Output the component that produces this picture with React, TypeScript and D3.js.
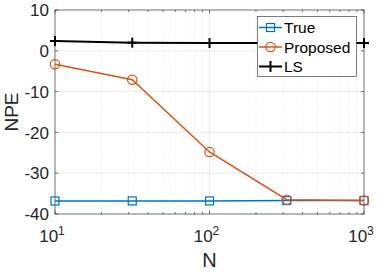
import React from "react";
import * as d3 from "d3";

const xs = [10, 31.62, 100, 316.2, 1000];
const trueVals = [-36.8, -36.8, -36.8, -36.7, -36.7];
const proposedVals = [-3.3, -7.1, -24.8, -36.5, -36.7];
const lsVals = [2.4, 2.0, 1.9, 1.9, 1.9];
const yTicks = [-40, -30, -20, -10, 0, 10];
const xTicks = [10, 100, 1000];
const xTickExps = ["1", "2", "3"];
const seriesNames = ["True", "Proposed", "LS"];

const W = 382, H = 273;
const L = 55, R = 364, T = 10, B = 214;
const font = "'Liberation Sans', Arial, sans-serif";

export default function App() {
  const x = d3.scaleLog().domain([10, 1000]).range([L, R]);
  const y = d3.scaleLinear().domain([-40, 10]).range([B, T]);
  const line = d3.line<number>().x((_, i) => x(xs[i])).y((d) => y(d));
  const minor: number[] = [];
  [10, 100].forEach((d) => { for (let k = 2; k <= 9; k++) minor.push(d * k); });
  const blue = "#0072BD", orange = "#D95319";
  return (
    <svg width={W} height={H} style={{ position: "absolute", left: 0, top: 0, background: "#fff" }} fontFamily={font}>
      <rect x={0} y={0} width={W} height={H} fill="#fff" />
      {minor.map((m) => (
        <line key={"mg" + m} x1={x(m)} x2={x(m)} y1={T} y2={B} stroke="#dcdcdc" strokeWidth={0.6} strokeDasharray="1,2" />
      ))}
      {xTicks.map((t) => (
        <line key={"xg" + t} x1={x(t)} x2={x(t)} y1={T} y2={B} stroke="#e6e6e6" strokeWidth={0.8} />
      ))}
      {yTicks.map((t) => (
        <line key={"yg" + t} x1={L} x2={R} y1={y(t)} y2={y(t)} stroke="#e6e6e6" strokeWidth={0.8} />
      ))}
      {minor.map((m) => (
        <g key={"mt" + m}>
          <line x1={x(m)} x2={x(m)} y1={B} y2={B - 2} stroke="#262626" strokeWidth={0.6} />
          <line x1={x(m)} x2={x(m)} y1={T} y2={T + 2} stroke="#262626" strokeWidth={0.6} />
        </g>
      ))}
      {xTicks.map((t) => (
        <g key={"xt" + t}>
          <line x1={x(t)} x2={x(t)} y1={B} y2={B - 3.5} stroke="#262626" strokeWidth={0.6} />
          <line x1={x(t)} x2={x(t)} y1={T} y2={T + 3.5} stroke="#262626" strokeWidth={0.6} />
        </g>
      ))}
      {yTicks.map((t) => (
        <g key={"yt" + t}>
          <line x1={L} x2={L + 3} y1={y(t)} y2={y(t)} stroke="#262626" strokeWidth={0.6} />
          <line x1={R} x2={R - 3} y1={y(t)} y2={y(t)} stroke="#262626" strokeWidth={0.6} />
        </g>
      ))}
      <rect x={L} y={T} width={R - L} height={B - T} fill="none" stroke="#262626" strokeWidth={0.6} />
      <path d={line(trueVals) || ""} fill="none" stroke={blue} strokeWidth={1.5} />
      {trueVals.map((v, i) => (
        <rect key={"tm" + i} x={x(xs[i]) - 4} y={y(v) - 4} width={8} height={8} fill="none" stroke={blue} strokeWidth={1.2} />
      ))}
      <path d={line(proposedVals) || ""} fill="none" stroke={orange} strokeWidth={1.5} />
      {proposedVals.map((v, i) => (
        <circle key={"pm" + i} cx={x(xs[i])} cy={y(v)} r={4.7} fill="none" stroke={orange} strokeWidth={1.2} />
      ))}
      <path d={line(lsVals) || ""} fill="none" stroke="#000" strokeWidth={2} />
      {lsVals.map((v, i) => (
        <g key={"lm" + i} stroke="#000" strokeWidth={2}>
          <line x1={x(xs[i]) - 5} x2={x(xs[i]) + 5} y1={y(v)} y2={y(v)} />
          <line x1={x(xs[i])} x2={x(xs[i])} y1={y(v) - 5} y2={y(v) + 5} />
        </g>
      ))}
      {yTicks.map((t) => (
        <text key={"yl" + t} x={L - 6} y={y(t)} dy="0.36em" textAnchor="end" fontSize={17} fill="#262626">
          {t}
        </text>
      ))}
      {xTicks.map((t, i) => (
        <text key={"xl" + t} x={x(t) - 3} y={242} textAnchor="middle" fontSize={17} fill="#262626">
          10<tspan dy={-7} fontSize={12}>{xTickExps[i]}</tspan>
        </text>
      ))}
      <text x={x(100)} y={267} textAnchor="middle" fontSize={20} fill="#262626">N</text>
      <text transform={`translate(18,${(T + B) / 2}) rotate(-90)`} textAnchor="middle" fontSize={19} fill="#262626">NPE</text>
      <rect x={257.5} y={16.5} width={99} height={60} fill="#fff" stroke="#262626" strokeWidth={0.6} />
      {seriesNames.map((n, i) => {
        const ly = 27.5 + i * 19.5;
        const c = i === 0 ? blue : i === 1 ? orange : "#000";
        return (
          <g key={"lg" + n}>
            <line x1={259} x2={282} y1={ly} y2={ly} stroke={c} strokeWidth={i === 2 ? 2 : 1.5} />
            {i === 0 && <rect x={266.5} y={ly - 4} width={8} height={8} fill="none" stroke={c} strokeWidth={1.2} />}
            {i === 1 && <circle cx={270.5} cy={ly} r={4.7} fill="none" stroke={c} strokeWidth={1.2} />}
            {i === 2 && <line x1={270.5} x2={270.5} y1={ly - 5.5} y2={ly + 5.5} stroke={c} strokeWidth={2} />}
            <text x={284} y={ly} dy="0.36em" fontSize={15.5} fill="#000">{n}</text>
          </g>
        );
      })}
    </svg>
  );
}
